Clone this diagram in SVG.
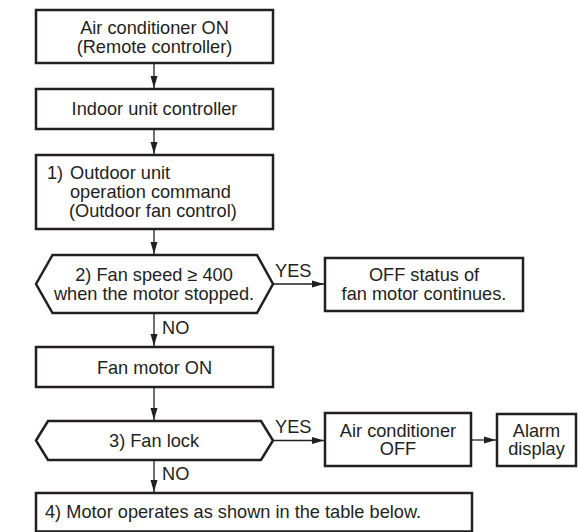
<svg xmlns="http://www.w3.org/2000/svg" width="578" height="532" viewBox="0 0 578 532">
<style>
.b{fill:#fff;stroke:#231f20;stroke-width:2.5}
.t{font-family:"Liberation Sans",Arial,sans-serif;font-size:18.2px;fill:#231f20}
.c{text-anchor:middle}
.l{fill:none;stroke:#231f20;stroke-width:1.3}
</style>
<defs>
<marker id="ah" markerWidth="12" markerHeight="8" refX="12" refY="4" orient="auto" markerUnits="userSpaceOnUse">
<path d="M0,0.5 L12,4 L0,7.5 Z" fill="#231f20"/>
</marker>
</defs>
<rect width="578" height="532" fill="#fff"/>
<g id="connectors">
<line class="l" x1="154" y1="63" x2="154" y2="88" marker-end="url(#ah)"/>
<line class="l" x1="154" y1="129" x2="154" y2="154" marker-end="url(#ah)"/>
<line class="l" x1="154" y1="229" x2="154" y2="254" marker-end="url(#ah)"/>
<line class="l" x1="273" y1="284" x2="324" y2="284" marker-end="url(#ah)"/>
<line class="l" x1="154" y1="313" x2="154" y2="346" marker-end="url(#ah)"/>
<line class="l" x1="154" y1="387" x2="154" y2="420" marker-end="url(#ah)"/>
<line class="l" x1="273" y1="440.5" x2="324" y2="440.5" marker-end="url(#ah)"/>
<line class="l" x1="471" y1="440" x2="496" y2="440" marker-end="url(#ah)"/>
<line class="l" x1="154" y1="460" x2="154" y2="492" marker-end="url(#ah)"/>
<text class="t" x="275" y="277">YES</text>
<text class="t" x="162" y="334">NO</text>
<text class="t" x="275" y="433">YES</text>
<text class="t" x="162" y="480">NO</text>
</g>
<g id="n1">
<rect class="b" x="36" y="10" width="237" height="53"/>
<text class="t c" x="154.5" y="34">Air conditioner ON</text>
<text class="t c" x="154.5" y="53">(Remote controller)</text>
</g>
<g id="n2">
<rect class="b" x="36" y="89" width="237" height="40"/>
<text class="t c" x="154.5" y="115">Indoor unit controller</text>
</g>
<g id="n3">
<rect class="b" x="36" y="155" width="237" height="74"/>
<text class="t" x="47" y="179">1)</text>
<text class="t" x="70" y="179">Outdoor unit</text>
<text class="t" x="70" y="198">operation command</text>
<text class="t" x="69" y="217">(Outdoor fan control)</text>
</g>
<g id="d1">
<polygon class="b" points="36,284 52.5,255 257,255 273,284 257,313 52.5,313"/>
<text class="t c" x="154" y="281">2) Fan speed ≥ 400</text>
<text class="t c" x="154" y="300">when the motor stopped.</text>
</g>
<g id="n4">
<rect class="b" x="325" y="258" width="198" height="53"/>
<text class="t c" x="424" y="280.5">OFF status of</text>
<text class="t c" x="424" y="299.5">fan motor continues.</text>
</g>
<g id="n5">
<rect class="b" x="36" y="347" width="237" height="40"/>
<text class="t c" x="154.5" y="373.5">Fan motor ON</text>
</g>
<g id="d2">
<polygon class="b" points="36,440.5 48,421 261,421 273,440.5 261,460 48,460"/>
<text class="t c" x="154" y="447">3) Fan lock</text>
</g>
<g id="n6">
<rect class="b" x="325" y="413" width="146" height="53"/>
<text class="t c" x="398" y="436.5">Air conditioner</text>
<text class="t c" x="398" y="455">OFF</text>
</g>
<g id="n7">
<rect class="b" x="497" y="414" width="79" height="52"/>
<text class="t c" x="536.5" y="436.5">Alarm</text>
<text class="t c" x="536.5" y="455">display</text>
</g>
<g id="n8">
<rect class="b" x="36" y="493" width="436" height="38.5"/>
<text class="t" x="45" y="518">4) Motor operates as shown in the table below.</text>
</g>
</svg>
